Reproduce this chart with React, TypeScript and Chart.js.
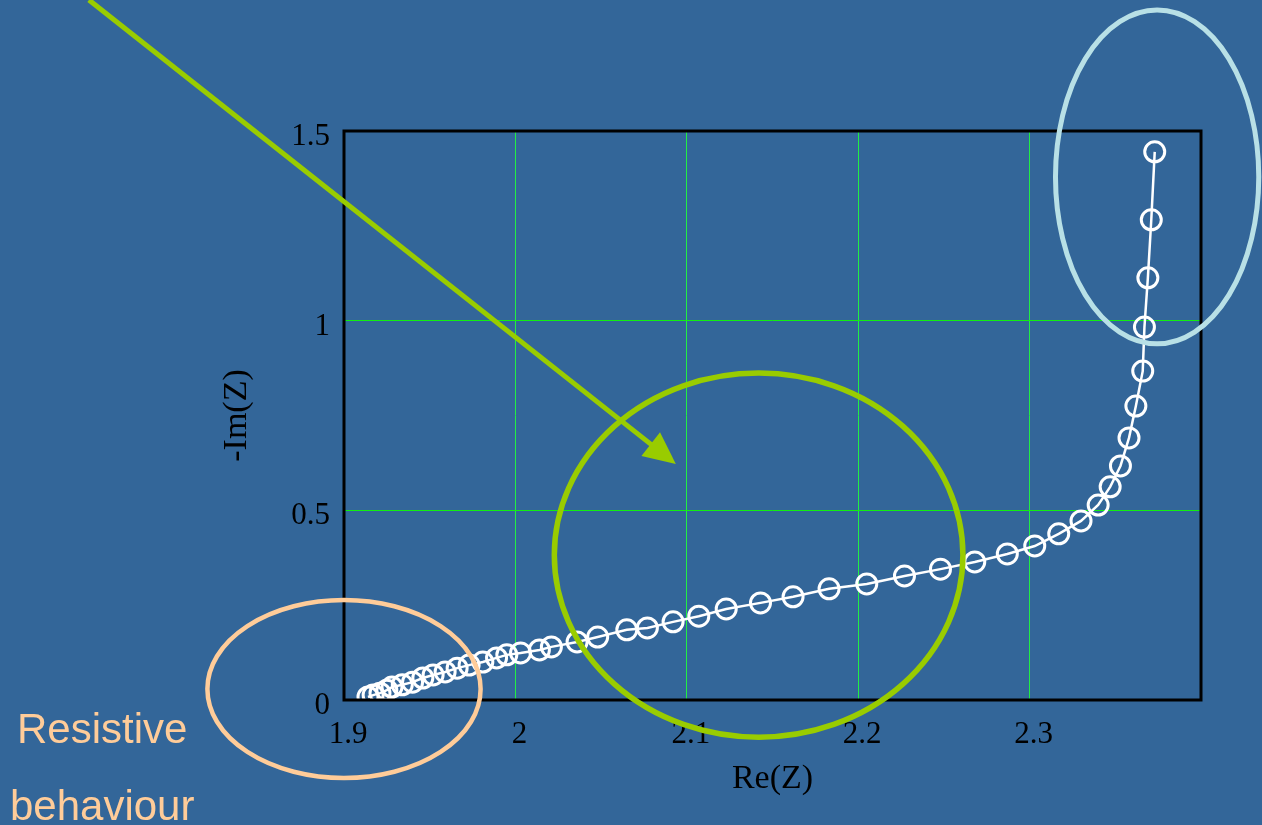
import React, { useEffect, useRef } from 'react';
import { Chart, registerables } from 'chart.js';

Chart.register(...registerables);

// Nyquist data: Re(Z) vs -Im(Z)
const reZ = [
  1.914, 1.917, 1.921, 1.925, 1.928, 1.934, 1.94, 1.946, 1.952, 1.959,
  1.966, 1.973, 1.981, 1.989, 1.995, 2.003, 2.014, 2.021, 2.036, 2.048,
  2.065, 2.077, 2.092, 2.107, 2.123, 2.143, 2.162, 2.183, 2.205, 2.227,
  2.248, 2.268, 2.287, 2.303, 2.317, 2.33, 2.34, 2.347, 2.353, 2.358,
  2.362, 2.366, 2.367, 2.369, 2.371, 2.373,
];
const negImZ = [
  0.008, 0.013, 0.018, 0.026, 0.034, 0.04, 0.047, 0.058, 0.066, 0.074,
  0.084, 0.092, 0.1, 0.111, 0.119, 0.124, 0.132, 0.14, 0.153, 0.166,
  0.185, 0.19, 0.206, 0.221, 0.24, 0.256, 0.272, 0.293, 0.306, 0.327,
  0.345, 0.364, 0.385, 0.406, 0.438, 0.472, 0.514, 0.562, 0.617, 0.691,
  0.775, 0.867, 0.983, 1.113, 1.266, 1.445,
];

const xTickValues = [1.9, 2, 2.1, 2.2, 2.3];
const yTickValues = [0, 0.5, 1, 1.5];
const xTitle = 'Re(Z)';
const yTitle = '-Im(Z)';
const noteLines = ['Resistive', 'behaviour'];

// annotation shapes in data units: [cx, cy, rx, ry]
const ellipseResistive = [1.9, 0.029, 0.0797, 0.2347];
const ellipseMid = [2.1419, 0.382, 0.1192, 0.48];
const ellipseTop = [2.3744, 1.379, 0.0593, 0.44];
const arrowFrom = [1.7512, 1.8455];
const arrowTo = [2.0936, 0.6222];

const BG = '#336699';
const LIME = '#99cc00';
const PEACH = '#ffcc99';
const ICE = '#b8e0e6';

const overlayPlugin = {
  id: 'overlay',
  beforeDraw(chart: any) {
    const { ctx, width, height } = chart;
    ctx.save();
    ctx.fillStyle = BG;
    ctx.fillRect(0, 0, width, height);
    ctx.restore();
  },
  afterDraw(chart: any) {
    const { ctx, chartArea } = chart;
    const xs = chart.scales.x;
    const ys = chart.scales.y;
    ctx.save();
    // plot frame
    ctx.strokeStyle = '#000000';
    ctx.lineWidth = 3;
    ctx.strokeRect(
      chartArea.left,
      chartArea.top,
      chartArea.right - chartArea.left,
      chartArea.bottom - chartArea.top
    );

    const ellipse = (e: number[], color: string, lw: number) => {
      const px = xs.getPixelForValue(e[0]);
      const py = ys.getPixelForValue(e[1]);
      const prx = xs.getPixelForValue(e[0] + e[2]) - px;
      const pry = py - ys.getPixelForValue(e[1] + e[3]);
      ctx.beginPath();
      ctx.ellipse(px, py, prx, pry, 0, 0, Math.PI * 2);
      ctx.strokeStyle = color;
      ctx.lineWidth = lw;
      ctx.stroke();
    };
    ellipse(ellipseTop, ICE, 5);
    ellipse(ellipseMid, LIME, 5.5);
    ellipse(ellipseResistive, PEACH, 4.5);

    // arrow
    const sx = xs.getPixelForValue(arrowFrom[0]);
    const sy = ys.getPixelForValue(arrowFrom[1]);
    const tx = xs.getPixelForValue(arrowTo[0]);
    const ty = ys.getPixelForValue(arrowTo[1]);
    const dx = tx - sx;
    const dy = ty - sy;
    const len = Math.sqrt(dx * dx + dy * dy);
    const ux = dx / len;
    const uy = dy / len;
    const headL = 32;
    const headW = 15;
    const bx = tx - ux * headL;
    const by = ty - uy * headL;
    ctx.strokeStyle = LIME;
    ctx.lineWidth = 5;
    ctx.beginPath();
    ctx.moveTo(sx, sy);
    ctx.lineTo(bx + ux * 2, by + uy * 2);
    ctx.stroke();
    ctx.fillStyle = LIME;
    ctx.beginPath();
    ctx.moveTo(tx, ty);
    ctx.lineTo(bx - uy * headW, by + ux * headW);
    ctx.lineTo(bx + uy * headW, by - ux * headW);
    ctx.closePath();
    ctx.fill();

    // note text
    ctx.fillStyle = PEACH;
    ctx.font = '42px "Liberation Sans", Arial, sans-serif';
    ctx.textAlign = 'left';
    ctx.textBaseline = 'alphabetic';
    ctx.fillText(noteLines[0], 17, 743);
    ctx.fillText(noteLines[1], 10, 820);
    ctx.restore();
  },
};

export default function App() {
  const canvasRef = useRef<HTMLCanvasElement | null>(null);

  useEffect(() => {
    document.body.style.margin = '0';
    document.body.style.overflow = 'hidden';
    const canvas = canvasRef.current;
    if (!canvas) return;
    const points = reZ.map((v, i) => ({ x: v, y: negImZ[i] }));
    const serif = '"Liberation Serif", "Times New Roman", serif';

    const chart = new Chart(canvas, {
      type: 'scatter',
      data: {
        datasets: [
          {
            data: points,
            showLine: true,
            borderColor: '#ffffff',
            borderWidth: 2.5,
            backgroundColor: 'rgba(0,0,0,0)',
            pointRadius: 10,
            pointBorderWidth: 3,
            pointBorderColor: '#ffffff',
            pointBackgroundColor: 'rgba(0,0,0,0)',
            pointHoverRadius: 10,
          },
        ],
      },
      options: {
        responsive: false,
        animation: false,
        devicePixelRatio: 1,
        layout: { padding: { top: 131, right: 61, left: 0, bottom: 0 } },
        plugins: {
          legend: { display: false },
          tooltip: { enabled: false },
          title: { display: false },
        },
        scales: {
          x: {
            type: 'linear',
            min: 1.9,
            max: 2.4,
            afterBuildTicks: (scale: any) => {
              scale.ticks = xTickValues.map((v) => ({ value: v }));
            },
            afterFit: (scale: any) => {
              scale.height = 125;
            },
            border: { display: false },
            grid: {
              drawTicks: false,
              lineWidth: 1,
              color: (c: any) =>
                c.tick && c.tick.value === 1.9 ? 'rgba(0,0,0,0)' : '#22ee44',
            },
            ticks: {
              color: '#000000',
              font: { family: serif, size: 31 },
              padding: 16,
              labelOffset: 4,
              maxRotation: 0,
              autoSkip: false,
              callback: (v: any) => String(v),
            },
            title: {
              display: true,
              text: xTitle,
              color: '#000000',
              font: { family: serif, size: 34 },
              padding: { top: 0, bottom: 26 },
            },
          },
          y: {
            type: 'linear',
            min: 0,
            max: 1.5,
            afterBuildTicks: (scale: any) => {
              scale.ticks = yTickValues.map((v) => ({ value: v }));
            },
            afterFit: (scale: any) => {
              scale.width = 344;
            },
            border: { display: false },
            grid: {
              drawTicks: false,
              lineWidth: 1,
              color: (c: any) =>
                c.tick && (c.tick.value === 0 || c.tick.value === 1.5)
                  ? 'rgba(0,0,0,0)'
                  : '#11ee11',
            },
            ticks: {
              color: '#000000',
              font: { family: serif, size: 31 },
              padding: 14,
              labelOffset: 6,
              autoSkip: false,
              callback: (v: any) => String(v),
            },
            title: {
              display: true,
              text: yTitle,
              color: '#000000',
              font: { family: serif, size: 34 },
              padding: { top: 217, bottom: 0 },
            },
          },
        },
      },
      plugins: [overlayPlugin],
    });

    return () => {
      chart.destroy();
    };
  }, []);

  return (
    <canvas
      ref={canvasRef}
      width={1262}
      height={825}
      style={{ display: 'block', width: 1262, height: 825 }}
    />
  );
}
